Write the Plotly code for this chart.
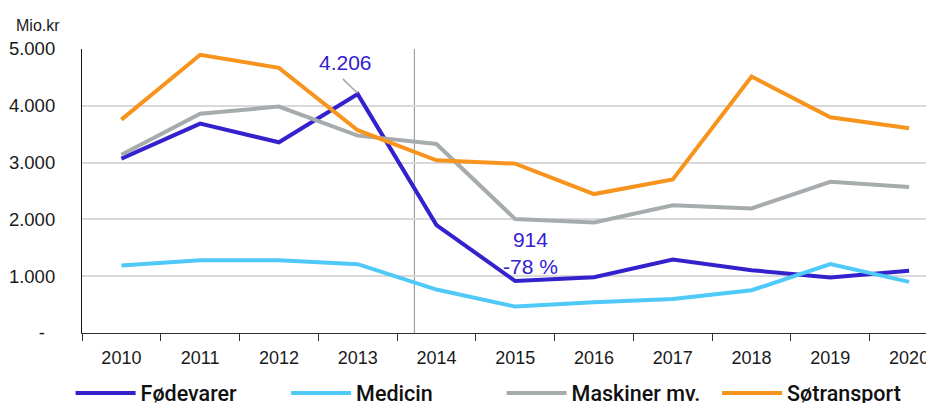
import plotly.graph_objects as go

years = ["2010", "2011", "2012", "2013", "2014", "2015", "2016", "2017", "2018", "2019", "2020"]
foedevarer = [3069, 3686, 3358, 4206, 1900, 914, 982, 1294, 1106, 977, 1094]
medicin = [1189, 1282, 1282, 1212, 765, 465, 541, 600, 753, 1212, 900]
maskiner = [3139, 3862, 3986, 3475, 3328, 2005, 1947, 2247, 2194, 2663, 2570]
soetransport = [3757, 4898, 4668, 3570, 3041, 2982, 2446, 2705, 4515, 3799, 3605]

y_tickvals = [0, 1000, 2000, 3000, 4000, 5000]
y_ticktext = ["-\u00a0\u00a0", "1.000", "2.000", "3.000", "4.000", "5.000"]

series = [
    ("Fødevarer", foedevarer, "#3321CE"),
    ("Medicin", medicin, "#4FC9F7"),
    ("Maskiner mv.", maskiner, "#A6ABAD"),
    ("Søtransport", soetransport, "#F7941D"),
]

FONT = "Liberation Sans"
LEGEND_FONT = "Roboto"

fig = go.Figure()
for name, vals, color in series:
    fig.add_trace(go.Scatter(
        x=years, y=vals, name=name, mode="lines",
        line=dict(color=color, width=4),
    ))

# page body has an 8px margin: figure is sized/offset to compensate
fig.update_layout(
    width=926, height=395,
    margin=dict(l=74, r=0, t=41, b=70, autoexpand=False),
    paper_bgcolor="white", plot_bgcolor="white",
    font=dict(family=FONT, size=18, color="#1a1a1a"),
    showlegend=True,
    legend=dict(
        orientation="h", x=-0.0134, xanchor="left", y=-0.211, yanchor="middle",
        font=dict(family=LEGEND_FONT, size=21.5, color="#111111", weight=500),
        itemwidth=60, entrywidth=140.5, entrywidthmode="pixels",
        bgcolor="rgba(0,0,0,0)",
    ),
    xaxis=dict(
        type="category", range=[-0.5, 10.316],
        showgrid=False, showline=True, linecolor="#333333", linewidth=1.2,
        ticks="outside", tickson="boundaries", ticklen=7, tickcolor="#333333",
        tickfont=dict(size=18, color="#1a1a1a"),
        ticklabelstandoff=8,
    ),
    yaxis=dict(
        range=[0, 5000], tickvals=y_tickvals, ticktext=y_ticktext,
        showgrid=True, gridcolor="#D9D9D9", gridwidth=1.5,
        showline=True, linecolor="#111111", linewidth=1.2,
        zeroline=False, ticks="",
        tickfont=dict(size=18.5, color="#1a1a1a"),
        ticklabelstandoff=22,
    ),
    shapes=[
        dict(type="line", xref="x", yref="y domain", x0=3.72, x1=3.72, y0=0, y1=1,
             line=dict(color="#A0A0A0", width=1.2), layer="below"),
        dict(type="line", xref="x", yref="y", x0=2.812, y0=4474, x1=2.997, y1=4222,
             line=dict(color="#A6A6A6", width=1.5)),
    ],
    annotations=[
        dict(text="Mio.kr", xref="paper", yref="paper", x=-0.08, y=1.0845,
             xanchor="left", yanchor="middle", showarrow=False,
             font=dict(size=16, color="#1a1a1a")),
        dict(text="4.206", xref="x", yref="y", x=2.84, y=4757,
             xanchor="center", yanchor="middle", showarrow=False,
             font=dict(size=21, color="#3321CE")),
        dict(text="914<br>-78 %", xref="x", yref="y", x=5.198, y=1409,
             xanchor="center", yanchor="middle", showarrow=False,
             font=dict(size=21, color="#3321CE")),
    ],
)

fig.write_html("out.html")
